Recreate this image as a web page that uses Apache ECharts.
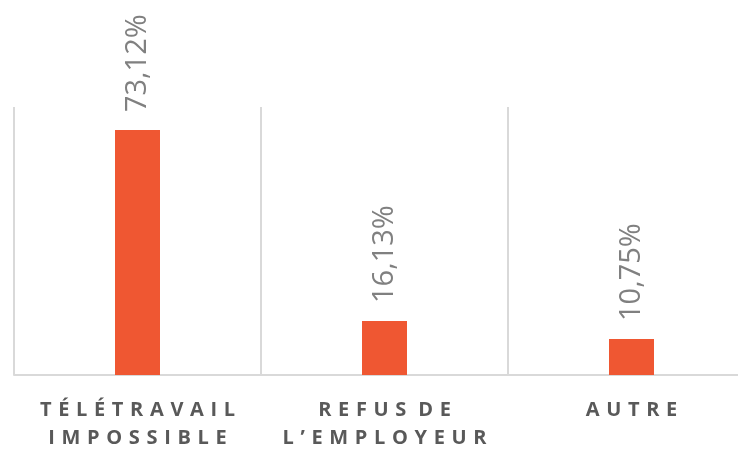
<!DOCTYPE html>
<html>
<head>
<meta charset="utf-8">
<script src="https://cdn.jsdelivr.net/npm/echarts@6/dist/echarts.min.js"></script>
<style>html,body{margin:0;padding:0;background:#fff}#c{width:738px;height:454px}</style>
</head>
<body>
<div id="c"></div>
<script>
const categories = ["TÉLÉTRAVAIL\nIMPOSSIBLE", "REFUS DE\nL’EMPLOYEUR", "AUTRE"];
const values = [73.12, 16.13, 10.75];

const chart = echarts.init(document.getElementById('c'), null, {renderer: 'canvas'});
const spaced = s => s.split('\n').map(line =>
  line.split(' ').map(w => Array.from(w).join('\u2004')).join('\u2004 ')
).join('\n');
chart.setOption({
  animation: false,
  grid: {left: 14, top: 107, width: 741, height: 268, outerBoundsMode: 'none', containLabel: false},
  xAxis: {
    type: 'category',
    data: categories,
    axisLine: {lineStyle: {color: '#d9d9d9', width: 2}},
    axisTick: {show: false},
    splitLine: {show: true, lineStyle: {color: '#d9d9d9', width: 2}},
    axisLabel: {
      interval: 0,
      margin: 21,
      fontFamily: 'Open Sans',
      fontWeight: 'bold',
      fontSize: 20,
      lineHeight: 28,
      color: '#595959',
      formatter: v => spaced(v)
    }
  },
  yAxis: {
    type: 'value', min: 0, max: 80,
    show: false,
    splitLine: {show: false}
  },
  series: [{
    type: 'bar',
    data: values,
    barWidth: 45,
    itemStyle: {color: '#EF5732'},
    label: {
      show: true,
      position: 'top',
      rotate: 90,
      align: 'left',
      verticalAlign: 'middle',
      distance: 18,
      fontFamily: 'Open Sans',
      fontSize: 29,
      color: '#808080',
      formatter: p => p.value.toFixed(2).replace('.', ',') + '%'
    }
  }]
});
</script>
</body>
</html>
